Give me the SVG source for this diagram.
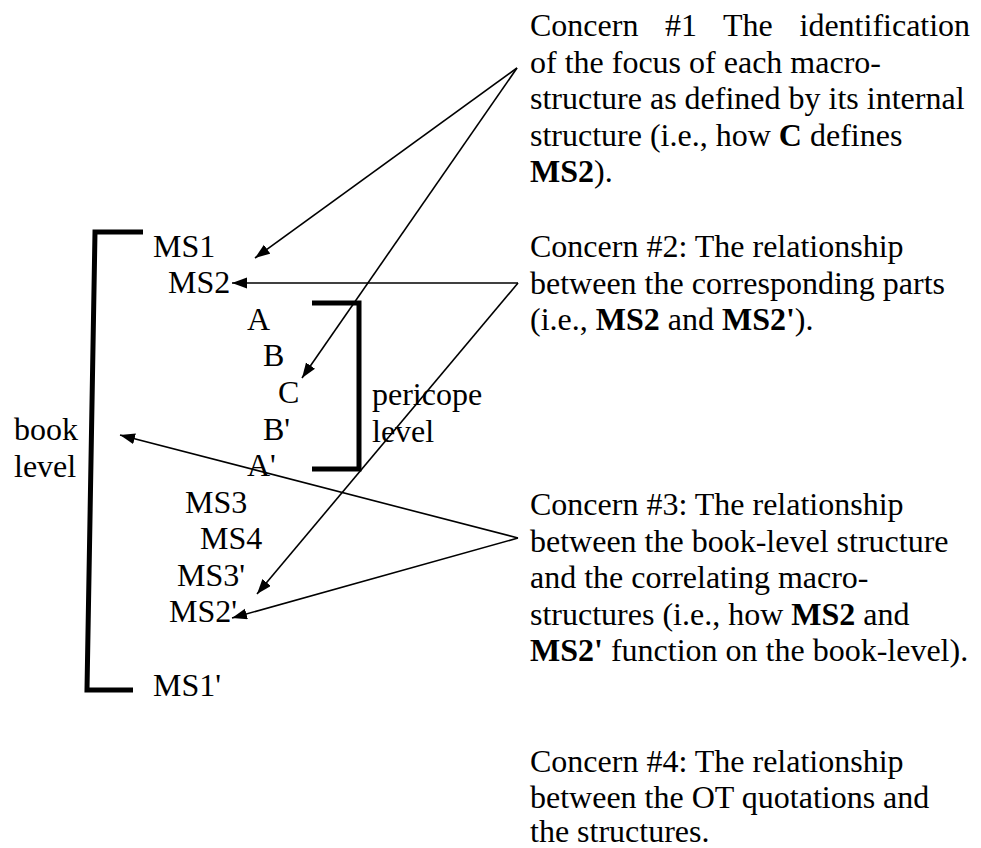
<svg xmlns="http://www.w3.org/2000/svg" width="981" height="848" viewBox="0 0 981 848">
  <style>
    text { font-family: "Liberation Serif", "Times New Roman", serif; font-size: 32px; fill: #000; }
    .b { font-weight: bold; }
    .bracket { fill: none; stroke: #000; stroke-width: 5; stroke-linejoin: miter; stroke-linecap: butt; }
    .conn { fill: none; stroke: #000; stroke-width: 1.6; }
  </style>
  <defs>
    <marker id="arrow" markerUnits="userSpaceOnUse" markerWidth="16" markerHeight="12" refX="15" refY="5.5" orient="auto">
      <path d="M0,0 L15,5.5 L0,11 z" fill="#000"/>
    </marker>
  </defs>
  <rect width="981" height="848" fill="#fff"/>

  <!-- book-level bracket -->
  <g id="book-bracket">
    <polyline class="bracket" points="143,232 95,232 87,690 133,690"/>
    <text x="14" y="440">book</text>
    <text x="14" y="477">level</text>
  </g>

  <!-- pericope-level bracket -->
  <g id="pericope-bracket">
    <polyline class="bracket" points="312,303 359,303 359,469 312,469"/>
    <text x="372" y="405">pericope</text>
    <text x="372" y="442">level</text>
  </g>

  <!-- chiastic outline -->
  <g id="ms1"><text x="153" y="257">MS1</text></g>
  <g id="ms2"><text x="168" y="293">MS2</text></g>
  <g id="a"><text x="247" y="330">A</text></g>
  <g id="b"><text x="263" y="366">B</text></g>
  <g id="c"><text x="278" y="403">C</text></g>
  <g id="b-prime"><text x="263" y="440">B'</text></g>
  <g id="a-prime"><text x="247" y="476">A'</text></g>
  <g id="ms3"><text x="185" y="513">MS3</text></g>
  <g id="ms4"><text x="200" y="549">MS4</text></g>
  <g id="ms3-prime"><text x="177" y="586">MS3'</text></g>
  <g id="ms2-prime"><text x="169" y="622">MS2'</text></g>
  <g id="ms1-prime"><text x="153" y="696">MS1'</text></g>

  <!-- concerns -->
  <g id="concern-1">
    <text y="36"><tspan x="530">Concern</tspan><tspan x="665">#1</tspan><tspan x="723">The</tspan><tspan x="799.5">identification</tspan></text>
    <text x="530" y="72.5">of the focus of each macro-</text>
    <text x="530" y="109">structure as defined by its internal</text>
    <text x="530" y="145.5">structure (i.e., how <tspan class="b">C</tspan> defines</text>
    <text x="530" y="182"><tspan class="b">MS2</tspan>).</text>
  </g>
  <g id="concern-2">
    <text x="530" y="257">Concern #2: The relationship</text>
    <text x="530" y="293.5">between the corresponding parts</text>
    <text x="530" y="330">(i.e., <tspan class="b">MS2</tspan> and <tspan class="b">MS2'</tspan>).</text>
  </g>
  <g id="concern-3">
    <text x="530" y="515">Concern #3: The relationship</text>
    <text x="530" y="551.5">between the book-level structure</text>
    <text x="530" y="588">and the correlating macro-</text>
    <text x="530" y="624.5">structures (i.e., how <tspan class="b">MS2</tspan> and</text>
    <text x="530" y="661"><tspan class="b">MS2'</tspan> function on the book-level).</text>
  </g>
  <g id="concern-4">
    <text x="530" y="771.5">Concern #4: The relationship</text>
    <text x="530" y="808">between the OT quotations and</text>
    <text x="530" y="842">the structures.</text>
  </g>

  <!-- connectors -->
  <g id="connectors">
    <line class="conn" x1="517" y1="68" x2="255" y2="258" marker-end="url(#arrow)"/>
    <line class="conn" x1="517" y1="68" x2="302" y2="378" marker-end="url(#arrow)"/>
    <line class="conn" x1="518" y1="283" x2="232" y2="283" marker-end="url(#arrow)"/>
    <line class="conn" x1="518" y1="283" x2="257" y2="594" marker-end="url(#arrow)"/>
    <line class="conn" x1="518" y1="538" x2="120" y2="435" marker-end="url(#arrow)"/>
    <line class="conn" x1="518" y1="538" x2="232" y2="618" marker-end="url(#arrow)"/>
  </g>
</svg>
